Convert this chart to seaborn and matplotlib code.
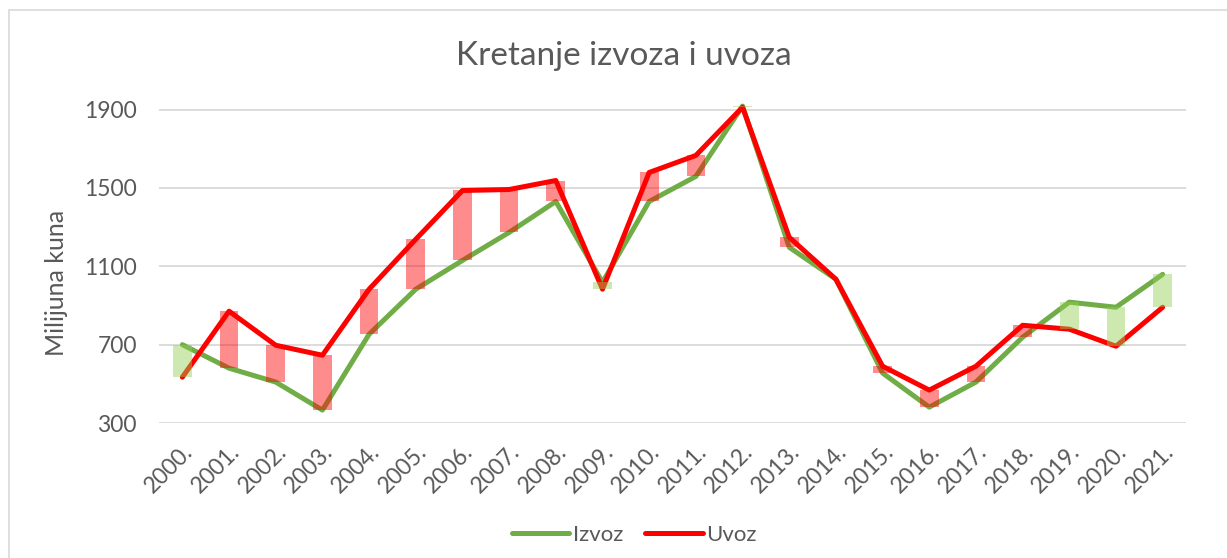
import numpy as np
import matplotlib.pyplot as plt
import seaborn as sns
import pandas as pd
from matplotlib.patches import Rectangle
from matplotlib.lines import Line2D

# ---------------------------------------------------------------------------- #
# DATA (procitano s grafa)                                                     #
# ---------------------------------------------------------------------------- #
godine = ['2000.', '2001.', '2002.', '2003.', '2004.', '2005.', '2006.', '2007.',
          '2008.', '2009.', '2010.', '2011.', '2012.', '2013.', '2014.', '2015.',
          '2016.', '2017.', '2018.', '2019.', '2020.', '2021.']
izvoz = [700, 580, 509, 366, 753, 983, 1130, 1273, 1431, 1018, 1431, 1559,
         1918, 1197, 1034, 555, 381, 509, 738, 917, 891, 1059]
uvoz = [534, 871, 697, 646, 983, 1238, 1487, 1492, 1538, 983, 1579, 1666,
        1912, 1248, 1034, 590, 468, 590, 799, 779, 692, 891]
y_ticks = [300, 700, 1100, 1500, 1900]

siva = '#595959'
zelena = '#70ad47'
crvena = '#ff0000'

sns.set_theme(style='white')
plt.rcParams['font.family'] = ['Lato', 'DejaVu Sans']

df = pd.DataFrame({'Godina': godine, 'Izvoz': izvoz, 'Uvoz': uvoz})
df['pos'] = np.arange(len(df))
long_df = df.melt(id_vars=['Godina', 'pos'], value_vars=['Izvoz', 'Uvoz'],
                  var_name='Serija', value_name='Vrijednost')

fig = plt.figure(figsize=(12.27, 5.58), dpi=100)
ax = fig.add_axes([0.1296, 0.2419, 0.8370, 0.5968])

# okvir grafa (kao u Excelu)
fig.patches.append(Rectangle((9/1227, -0.1), 1.2, 1.1 - 10/558, transform=fig.transFigure,
                             fill=False, edgecolor='#d9d9d9', lw=1.2))

sns.lineplot(data=long_df, x='pos', y='Vrijednost', hue='Serija',
             palette={'Izvoz': zelena, 'Uvoz': crvena}, lw=3.6, ax=ax,
             legend=False, zorder=3, solid_capstyle='round')

# up/down bars
donji = np.minimum(df['Izvoz'], df['Uvoz'])
visina = np.abs(df['Izvoz'] - df['Uvoz'])
boje = np.where(df['Izvoz'] >= df['Uvoz'], '#92d050', crvena)
ax.bar(df['pos'], visina, bottom=donji, width=0.4, color=boje, alpha=0.45,
       zorder=4, linewidth=0)

ax.set_xlim(-0.5, len(godine) - 0.5)
ax.set_ylim(300, 2000)
ax.set_yticks(y_ticks)
ax.set_xticks(df['pos'])
ax.set_xticklabels(godine, rotation=45, ha='right', rotation_mode='anchor')
ax.grid(axis='y', color='#d9d9d9', lw=1.3)
ax.set_axisbelow(True)
for s in ax.spines.values():
    s.set_visible(False)
ax.tick_params(axis='both', length=0, labelsize=16.5, colors=siva)
ax.tick_params(axis='x', pad=13)
ax.tick_params(axis='y', pad=16)

ax.set_xlabel('')
ax.set_ylabel('Milijuna kuna', fontsize=18, color=siva, labelpad=12)
ax.yaxis.set_label_coords(-0.089, 0.42)
fig.text(0.508, 0.90, 'Kretanje izvoza i uvoza', ha='center', va='center',
         fontsize=24, color=siva)

handles = [Line2D([], [], color=zelena, lw=3.6, solid_capstyle='round'),
           Line2D([], [], color=crvena, lw=3.6, solid_capstyle='round')]
leg = fig.legend(handles, ['Izvoz', 'Uvoz'], loc='center', bbox_to_anchor=(0.517, 0.041),
                 ncol=2, frameon=False, fontsize=16, handlelength=2.6,
                 handletextpad=0.15, columnspacing=1.0)
for t in leg.get_texts():
    t.set_color(siva)

plt.savefig('out.png', dpi=100)
